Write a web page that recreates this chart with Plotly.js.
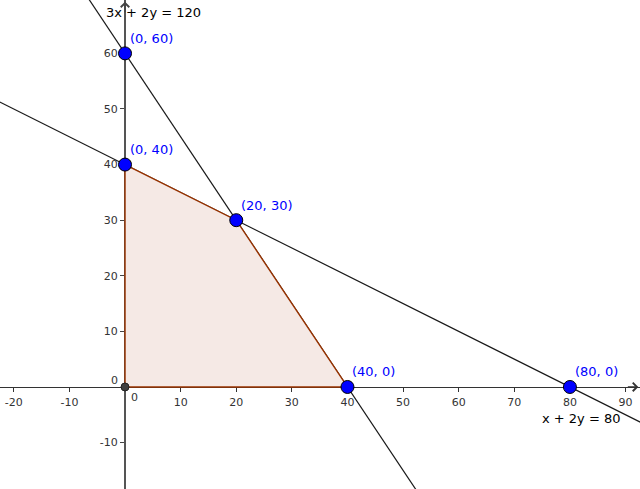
<!DOCTYPE html>
<html>
<head>
<meta charset="utf-8">
<script src="https://cdn.plot.ly/plotly-3.0.1.min.js"></script>
<style>html,body{margin:0;padding:0;background:#fff;}#chart{width:640px;height:489px;}</style>
</head>
<body>
<div id="chart"></div>
<script>
// Feasible region vertices (closed polygon)
var regionX = [0, 40, 20, 0, 0];
var regionY = [0, 0, 30, 40, 0];

// Constraint lines (two points on each line, extended beyond the view)
var line1Name = "3x + 2y = 120";
var line1X = [-10, 60];
var line1Y = [75, -30];
var line2Name = "x + 2y = 80";
var line2X = [-30, 100];
var line2Y = [55, -10];

// Corner points
var pointX = [0, 0, 20, 40, 80];
var pointY = [60, 40, 30, 0, 0];
var pointLabels = ["(0, 60)", "(0, 40)", "(20, 30)", "(40, 0)", "(80, 0)"];

// Origin
var originX = [0];
var originY = [0];

// Tick labels
var xTickVals = [-20, -10, 10, 20, 30, 40, 50, 60, 70, 80, 90];
var xTickText = ["-20", "-10", "10", "20", "30", "40", "50", "60", "70", "80", "90"];
var yTickVals = [-10, 10, 20, 30, 40, 50, 60];
var yTickText = ["-10", "10", "20", "30", "40", "50", "60"];

var FONT = "DejaVu Sans, Verdana, sans-serif";
var xRange = [-22.48, 92.6];
var yRange = [-18.35, 69.6];

var traces = [
  {x: line1X, y: line1Y, mode: "lines", line: {color: "#1a1a1a", width: 1.2}, hoverinfo: "skip"},
  {x: line2X, y: line2Y, mode: "lines", line: {color: "#1a1a1a", width: 1.2}, hoverinfo: "skip"},
  {x: regionX, y: regionY, mode: "lines", fill: "toself",
   fillcolor: "rgb(245,233,229)", line: {color: "rgb(153,51,0)", width: 1.4},
   hoverinfo: "skip"},
  {x: originX, y: originY, mode: "markers",
   marker: {size: 8, color: "#404040", line: {color: "#222", width: 1}}, hoverinfo: "skip"},
  {x: pointX, y: pointY, mode: "markers",
   marker: {size: 13, color: "#0000ff", line: {color: "#000", width: 1}}, hoverinfo: "skip"}
];

var annotations = [];
for (var i = 0; i < pointX.length; i++) {
  annotations.push({x: pointX[i], y: pointY[i], xref: "x", yref: "y", text: pointLabels[i],
    showarrow: false, xanchor: "left", yanchor: "middle", xshift: 3, yshift: 15,
    font: {family: FONT, size: 13, color: "#0000ff"}});
}
annotations.push({x: -3.8, y: 67.3, xref: "x", yref: "y", text: line1Name, showarrow: false,
  xanchor: "left", yanchor: "middle", font: {family: FONT, size: 13, color: "#000"}});
annotations.push({x: 74.6, y: -5.6, xref: "x", yref: "y", text: line2Name, showarrow: false,
  xanchor: "left", yanchor: "middle", font: {family: FONT, size: 13, color: "#000"}});
// zero labels
annotations.push({x: originX[0], y: originY[0], xref: "x", yref: "y", text: "0", showarrow: false,
  xanchor: "center", yanchor: "middle", xshift: 9, yshift: -11, font: {family: FONT, size: 11, color: "#333"}});
annotations.push({x: originX[0], y: originY[0], xref: "x", yref: "y", text: "0", showarrow: false,
  xanchor: "center", yanchor: "middle", xshift: -11, yshift: 6, font: {family: FONT, size: 11, color: "#333"}});
// axis arrowheads
annotations.push({x: xRange[1] - 0.3, y: 0, xref: "x", yref: "y", ax: -12, ay: 0, text: "",
  showarrow: true, arrowhead: 4, arrowsize: 1.1, arrowwidth: 1.5, arrowcolor: "#333"});
annotations.push({x: 0, y: yRange[1] - 0.3, xref: "x", yref: "y", ax: 0, ay: 12, text: "",
  showarrow: true, arrowhead: 4, arrowsize: 1.1, arrowwidth: 1.5, arrowcolor: "#444"});

var layout = {
  width: 640, height: 489,
  margin: {l: 0, r: 0, t: 0, b: 0, pad: 0},
  paper_bgcolor: "#fff", plot_bgcolor: "#fff",
  showlegend: false,
  xaxis: {range: xRange, anchor: "free", position: 18.35 / 87.95,
    showgrid: false, zeroline: false, showline: true, linecolor: "#333", linewidth: 1.5,
    ticks: "outside", ticklen: 4, tickcolor: "#333", tickwidth: 1,
    tickvals: xTickVals, ticktext: xTickText, layer: "below traces",
    tickfont: {family: FONT, size: 11, color: "#333"}, fixedrange: true},
  yaxis: {range: yRange, anchor: "free", position: 22.48 / 115.08,
    showgrid: false, zeroline: false, showline: true, linecolor: "#555", linewidth: 2,
    ticks: "outside", ticklen: 4, tickcolor: "#444", tickwidth: 1,
    tickvals: yTickVals, ticktext: yTickText, layer: "below traces",
    tickfont: {family: FONT, size: 11, color: "#333"}, fixedrange: true},
  annotations: annotations
};

Plotly.newPlot("chart", traces, layout, {displayModeBar: false, staticPlot: true});
</script>
</body>
</html>
